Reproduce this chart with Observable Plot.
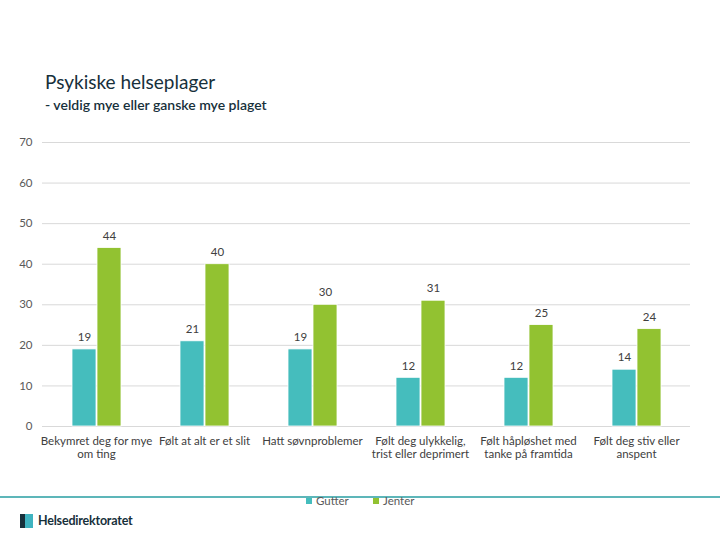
<!DOCTYPE html>
<html><head><meta charset="utf-8">
<script src="https://cdn.jsdelivr.net/npm/d3@7"></script>
<script src="https://cdn.jsdelivr.net/npm/@observablehq/plot@0.6"></script>
<style>
body{margin:0;background:#fff;font-family:Lato,"Open Sans",sans-serif;}
#wrap{position:relative;width:720px;height:540px;overflow:hidden;}
#title{position:absolute;left:45px;top:70px;font-size:19px;color:#17303b;}
#sub{position:absolute;left:45px;top:96px;font-size:14px;font-weight:600;color:#17303b;}
#chart{position:absolute;left:0;top:120px;}
#line{position:absolute;left:0;top:496px;width:720px;height:2px;background:#5db6b9;}
.leg{position:absolute;top:494px;font-size:11.5px;color:#595959;}
.sw{display:inline-block;width:6px;height:6px;margin-right:4px;vertical-align:1px;}
#logo{position:absolute;left:20px;top:513px;font-size:12.5px;font-weight:bold;color:#17303b;letter-spacing:-0.2px;}
#logo .ic{display:inline-block;width:8px;height:14px;background:#3fb3c0;margin-right:5px;vertical-align:-3px;border-left:5px solid #17303b;}
</style></head>
<body>
<div id="wrap">
<div id="title">Psykiske helseplager</div>
<div id="sub">- veldig mye eller ganske mye plaget</div>
<div id="chart"></div>
<div id="line"></div>
<div class="leg" style="left:306px"><span class="sw" style="background:#45bdbd"></span>Gutter</div>
<div class="leg" style="left:373px"><span class="sw" style="background:#92c231"></span>Jenter</div>
<div id="logo"><span class="ic"></span>Helsedirektoratet</div>
</div>
<script>
const categories = ["Bekymret deg for mye om ting","Følt at alt er et slit","Hatt søvnproblemer","Følt deg ulykkelig, trist eller deprimert","Følt håpløshet med tanke på framtida","Følt deg stiv eller anspent"];
const categoryLabels = ["Bekymret deg for mye\nom ting","Følt at alt er et slit","Hatt søvnproblemer","Følt deg ulykkelig,\ntrist eller deprimert","Følt håpløshet med\ntanke på framtida","Følt deg stiv eller\nanspent"];
const series = ["Gutter","Jenter"];
const gutter = [19,21,19,12,12,14];
const jenter = [44,40,30,31,25,24];
const yTicks = [0,10,20,30,40,50,60,70];
const colors = ["#45bdbd","#92c231"];

const data = categories.flatMap((c,i)=>[
  {cat:c, gender:"Gutter", value:gutter[i]},
  {cat:c, gender:"Jenter", value:jenter[i]}
]);
const labelOf = new Map(categories.map((c,i)=>[c,categoryLabels[i]]));

const chart = Plot.plot({
  width:720, height:350,
  marginTop:22, marginBottom:44, marginLeft:42, marginRight:30,
  style:{fontFamily:"Lato, 'Open Sans', sans-serif", color:"#404040", background:"transparent"},
  fx:{domain:categories, padding:0},
  x:{domain:series, paddingInner:0.04, paddingOuter:1.1, axis:null},
  y:{domain:[0,70]},
  color:{domain:series, range:colors},
  marks:[
    Plot.ruleY(yTicks,{stroke:"#d9d9d9", strokeWidth:1}),
    Plot.axisY(yTicks,{tickSize:0, tickPadding:10, label:null, fontSize:11.5, fill:"#595959"}),
    Plot.axisFx({anchor:"bottom", tickSize:0, tickPadding:9, label:null, fontSize:11.5, lineHeight:1.15, fill:"#404040", tickFormat:d=>labelOf.get(d)}),
    Plot.barY(data,{fx:"cat", x:"gender", y:"value", fill:"gender", stroke:"white", strokeWidth:0.8}),
    Plot.text(data,{fx:"cat", x:"gender", y:"value", text:"value", dy:-12, fontSize:11.5, fill:"#404040"})
  ]
});
document.getElementById("chart").appendChild(chart);
</script>
</body></html>
